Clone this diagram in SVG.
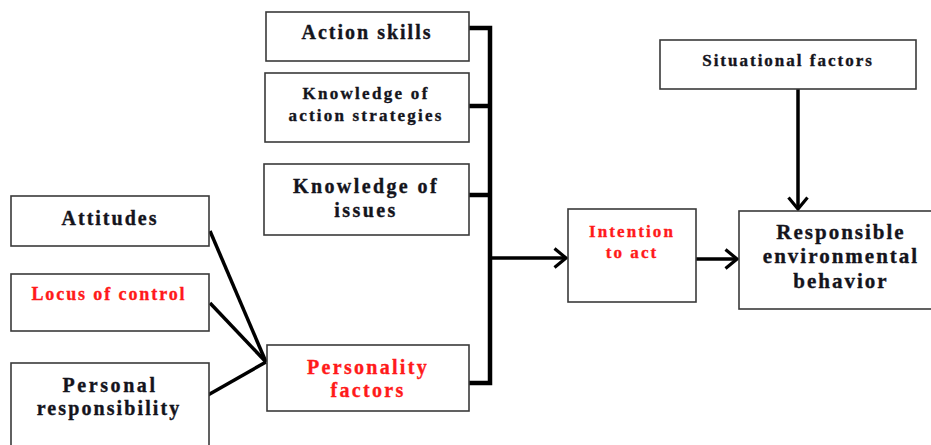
<svg xmlns="http://www.w3.org/2000/svg" width="931" height="445" viewBox="0 0 931 445">
  <style>
    .box { fill: #fff; stroke: #3a3a3a; stroke-width: 1.6; }
    .lbl { font-family: "Liberation Serif", "Times New Roman", serif; font-weight: bold; fill: #14141c; stroke: #14141c; stroke-width: 0.35; text-anchor: middle; }
    .red { fill: #ff1a1a; stroke: #ff1a1a; }
    .wire { fill: none; stroke: #000; stroke-width: 3.5; stroke-linecap: butt; }
    .bar { fill: none; stroke: #000; stroke-width: 4.5; }
  </style>
  <defs>
    <marker id="open" viewBox="0 0 15 22" refX="13" refY="11" markerWidth="15" markerHeight="22" markerUnits="userSpaceOnUse" orient="auto">
      <path d="M1.5,1.5 L13,11 L1.5,20.5" fill="none" stroke="#000" stroke-width="3.2"/>
    </marker>
  </defs>

  <g id="connectors">
    <!-- bracket collecting the knowledge/skill factors -->
    <path class="bar" d="M469,28 H490 V383 H469"/>
    <path class="bar" d="M469,106 H490"/>
    <path class="bar" d="M469,195 H490"/>
    <path class="wire" d="M490,258 H566" marker-end="url(#open)"/>
    <!-- personality inputs -->
    <path class="wire" d="M210,231 L266,362"/>
    <path class="wire" d="M210,303 L266,362"/>
    <path class="wire" d="M208,395 L266,362"/>
    <!-- to behaviour -->
    <path class="wire" d="M696,259 H737" marker-end="url(#open)"/>
    <path class="wire" d="M798,89 V209" marker-end="url(#open)"/>
  </g>

  <g id="action-skills">
    <rect class="box" x="266" y="12" width="203" height="49"/>
    <text class="lbl" x="367" y="39" font-size="20" letter-spacing="2">Action skills</text>
  </g>
  <g id="knowledge-strategies">
    <rect class="box" x="265" y="73" width="204" height="69"/>
    <text class="lbl" x="366" y="99" font-size="17" letter-spacing="2.3">Knowledge of</text>
    <text class="lbl" x="366" y="121" font-size="17" letter-spacing="2.2">action strategies</text>
  </g>
  <g id="knowledge-issues">
    <rect class="box" x="264" y="164" width="205" height="71"/>
    <text class="lbl" x="366" y="193" font-size="20" letter-spacing="2.4">Knowledge of</text>
    <text class="lbl" x="366" y="217" font-size="20" letter-spacing="2.4">issues</text>
  </g>
  <g id="personality">
    <rect class="box" x="267" y="345" width="202" height="66"/>
    <text class="lbl red" x="368" y="374" font-size="20" letter-spacing="2.3">Personality</text>
    <text class="lbl red" x="368" y="397" font-size="20" letter-spacing="2.3">factors</text>
  </g>
  <g id="attitudes">
    <rect class="box" x="11" y="196" width="198" height="50"/>
    <text class="lbl" x="110" y="225" font-size="20" letter-spacing="2">Attitudes</text>
  </g>
  <g id="locus">
    <rect class="box" x="11" y="274" width="198" height="57"/>
    <text class="lbl red" x="109" y="300" font-size="18" letter-spacing="1.9">Locus of control</text>
  </g>
  <g id="responsibility">
    <rect class="box" x="11" y="363" width="198" height="90"/>
    <text class="lbl" x="110" y="392" font-size="20" letter-spacing="2.6">Personal</text>
    <text class="lbl" x="109" y="415" font-size="20" letter-spacing="2.1">responsibility</text>
  </g>
  <g id="intention">
    <rect class="box" x="568" y="209" width="128" height="93"/>
    <text class="lbl red" x="632" y="237" font-size="17" letter-spacing="2.1">Intention</text>
    <text class="lbl red" x="632" y="258" font-size="17" letter-spacing="2.1">to act</text>
  </g>
  <g id="situational">
    <rect class="box" x="660" y="40" width="256" height="49"/>
    <text class="lbl" x="788" y="66" font-size="17" letter-spacing="2">Situational factors</text>
  </g>
  <g id="behavior">
    <rect class="box" x="739" y="211" width="200" height="98"/>
    <text class="lbl" x="841" y="239" font-size="21" letter-spacing="2">Responsible</text>
    <text class="lbl" x="841" y="263" font-size="21" letter-spacing="2">environmental</text>
    <text class="lbl" x="841" y="288" font-size="21" letter-spacing="2">behavior</text>
  </g>
</svg>
